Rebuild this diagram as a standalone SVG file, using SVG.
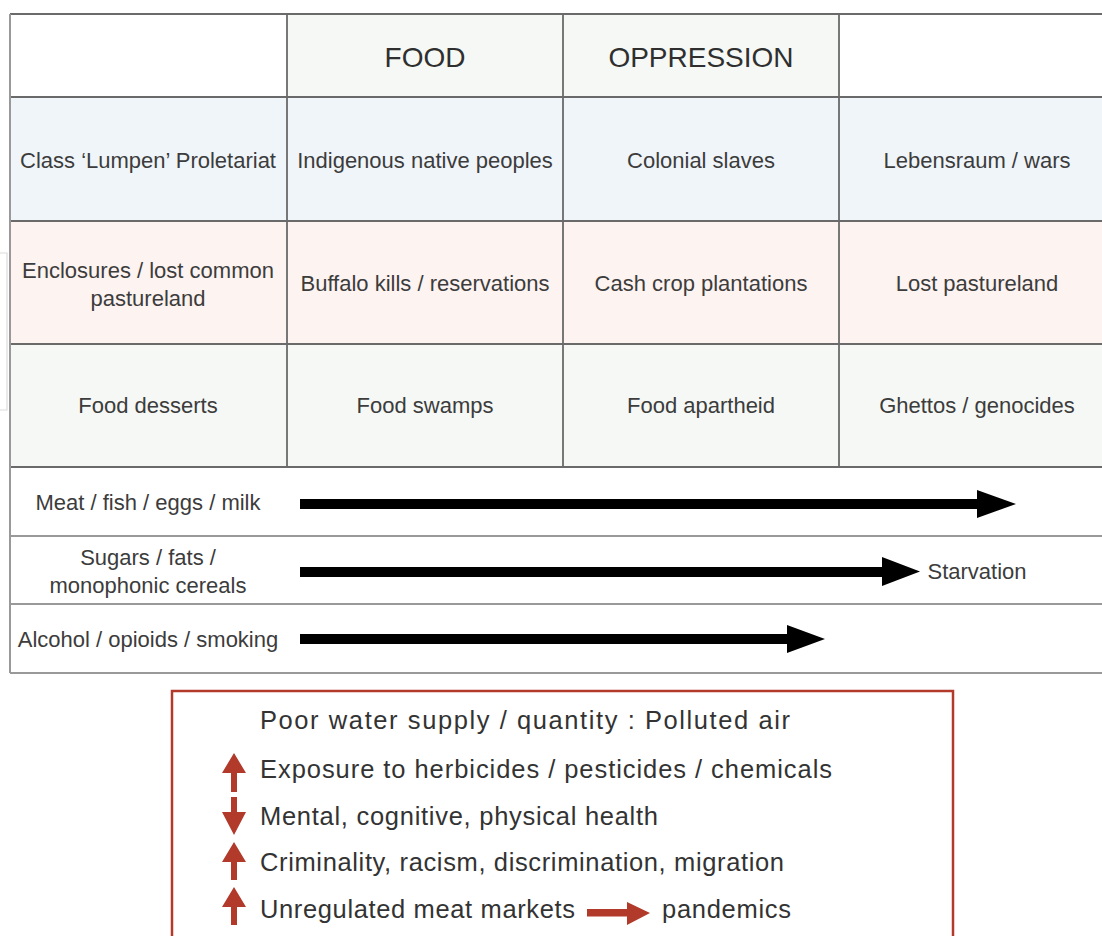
<svg xmlns="http://www.w3.org/2000/svg" width="1102" height="936" viewBox="0 0 1102 936">
<style>
  .t { font-family: "Liberation Sans", Arial, sans-serif; font-size: 22px; fill: #3c3c3c; text-anchor: middle; }
  .h { font-family: "Liberation Sans", Arial, sans-serif; font-size: 28px; fill: #2f2f2f; text-anchor: middle; }
  .b { font-family: "Liberation Sans", Arial, sans-serif; font-size: 25.5px; fill: #333; }
  .grid { stroke: #6a6a6a; stroke-width: 1.8; fill: none; }
  .rowline { stroke: #999; stroke-width: 2; fill: none; }
  .blk { fill: #000; }
  .red { fill: #b23a2b; }
</style>
<rect width="1102" height="936" fill="#fff"/>

<!-- faint bracket at left -->
<path d="M0 253 H7 V410 H0" fill="none" stroke="#dcdcdc" stroke-width="1.2"/>

<!-- cell backgrounds -->
<g id="cells">
  <rect x="287" y="14" width="552" height="83" fill="#f5f8f4"/>
  <rect x="10" y="97" width="1092" height="124" fill="#f0f5fa"/>
  <rect x="10" y="221" width="1092" height="123" fill="#fdf3f1"/>
  <rect x="10" y="344" width="1092" height="123" fill="#f5f8f5"/>
</g>

<!-- grid -->
<g id="grid">
  <path class="grid" d="M10 14 H1102 M10 97 H1102 M10 221 H1102 M10 344 H1102 M10 467 H1102"/>
  <path class="grid" d="M287 14 V467 M563 14 V467 M839 14 V467"/>
  <path class="rowline" d="M10 536 H1102 M10 604 H1102 M10 673 H1102"/>
  <path class="rowline" d="M10 14 V673"/>
</g>

<!-- header -->
<g id="hdr-food"><text class="h" x="425" y="67">FOOD</text></g>
<g id="hdr-oppression"><text class="h" x="701" y="67">OPPRESSION</text></g>

<!-- row 1 -->
<g id="r1c0"><text class="t" x="148" y="168">Class ‘Lumpen’ Proletariat</text></g>
<g id="r1c1"><text class="t" x="425" y="168">Indigenous native peoples</text></g>
<g id="r1c2"><text class="t" x="701" y="168">Colonial slaves</text></g>
<g id="r1c3"><text class="t" x="977" y="168">Lebensraum / wars</text></g>

<!-- row 2 -->
<g id="r2c0"><text class="t" x="148" y="278">Enclosures / lost common</text><text class="t" x="148" y="306">pastureland</text></g>
<g id="r2c1"><text class="t" x="425" y="291">Buffalo kills / reservations</text></g>
<g id="r2c2"><text class="t" x="701" y="291">Cash crop plantations</text></g>
<g id="r2c3"><text class="t" x="977" y="291">Lost pastureland</text></g>

<!-- row 3 -->
<g id="r3c0"><text class="t" x="148" y="413">Food desserts</text></g>
<g id="r3c1"><text class="t" x="425" y="413">Food swamps</text></g>
<g id="r3c2"><text class="t" x="701" y="413">Food apartheid</text></g>
<g id="r3c3"><text class="t" x="977" y="413">Ghettos / genocides</text></g>

<!-- arrow rows labels -->
<g id="lab-meat"><text class="t" x="148" y="510">Meat / fish / eggs / milk</text></g>
<g id="lab-sugars"><text class="t" x="148" y="565">Sugars / fats /</text><text class="t" x="148" y="593">monophonic cereals</text></g>
<g id="lab-alcohol"><text class="t" x="148" y="647">Alcohol / opioids / smoking</text></g>
<g id="lab-starvation"><text class="t" x="977" y="579">Starvation</text></g>

<!-- black arrows -->
<g id="connectors">
  <path class="blk" d="M300 499 H977 V490 L1016 504 L977 518 V509 H300 Z"/>
  <path class="blk" d="M300 567 H882 V557 L920 571.5 L882 586 V577 H300 Z"/>
  <path class="blk" d="M300 634 H787 V625 L825 639 L787 653 V644 H300 Z"/>
</g>

<!-- bottom box -->
<g id="box">
  <rect x="172" y="691" width="781" height="260" fill="none" stroke="#b23a2b" stroke-width="2.5"/>
  <text class="b" x="260" y="729" textLength="530" lengthAdjust="spacing">Poor water supply / quantity : Polluted air</text>
  <text class="b" x="260" y="778" textLength="572" lengthAdjust="spacing">Exposure to herbicides / pesticides / chemicals</text>
  <text class="b" x="260" y="825" textLength="398" lengthAdjust="spacing">Mental, cognitive, physical health</text>
  <text class="b" x="260" y="871" textLength="524" lengthAdjust="spacing">Criminality, racism, discrimination, migration</text>
  <text class="b" x="260" y="918" textLength="315" lengthAdjust="spacing">Unregulated meat markets</text>
  <text class="b" x="662" y="918" textLength="129" lengthAdjust="spacing">pandemics</text>
  <path class="red" d="M234 753 L246 773 H237 V792 H231 V773 H222 Z"/>
  <path class="red" d="M234 835 L246 812 H237 V797 H231 V812 H222 Z"/>
  <path class="red" d="M234 842 L246 862 H237 V880 H231 V862 H222 Z"/>
  <path class="red" d="M234 887 L246 907 H237 V925 H231 V907 H222 Z"/>
  <path class="red" d="M587 909 H627 V902 L650 913 L627 925 V916.5 H587 Z"/>
</g>
</svg>
